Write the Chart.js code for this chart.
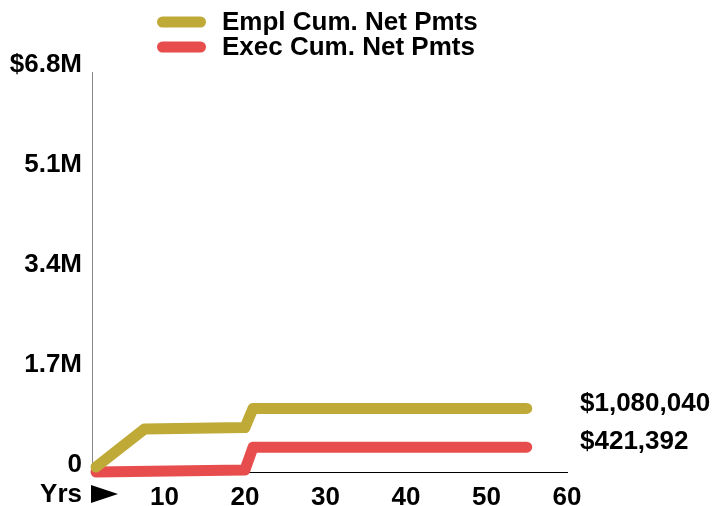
<!DOCTYPE html>
<html>
<head>
<meta charset="utf-8">
<script src="https://cdn.jsdelivr.net/npm/chart.js@4.4.1/dist/chart.umd.min.js"></script>
<style>
  body { margin: 0; background: #fff; }
  canvas { display: block; }
</style>
</head>
<body>
<canvas id="netPmtsChart" width="713" height="506"></canvas>
<script>
// Cumulative net payments by years of service

const seriesNames = ['Empl Cum. Net Pmts', 'Exec Cum. Net Pmts'];
const seriesColors = ['#bfaa37', '#e84d4d'];

const emplYears = [1.5, 7.5, 20, 21, 55];
const emplValues = [85000, 730000, 755000, 1080040, 1080040];

const execYears = [1.5, 20, 21, 55];
const execValues = [0, 35000, 421392, 421392];

const yTickValues = [0, 1700000, 3400000, 5100000, 6800000];
const yTickLabels = ['0', '1.7M', '3.4M', '5.1M', '$6.8M'];
const xTickValues = [10, 20, 30, 40, 50, 60];
const xTickLabels = ['10', '20', '30', '40', '50', '60'];

const FONT_FAMILY = '"Liberation Sans", Arial, Helvetica, sans-serif';
Chart.defaults.font.family = FONT_FAMILY;
Chart.defaults.font.size = 26;
Chart.defaults.font.weight = 'bold';
Chart.defaults.color = '#000';

function toPoints(xs, ys) {
    return xs.map((x, i) => ({ x: x, y: ys[i] }));
}

function lookupLabel(values, labels, value) {
    const i = values.indexOf(value);
    return i >= 0 ? labels[i] : '';
}

// Two stacked legend rows above the plot
const stackedLegend = {
    id: 'stackedLegend',
    afterDraw(chart) {
        const ctx = chart.ctx;
        ctx.save();
        ctx.font = 'bold 26px ' + FONT_FAMILY;
        ctx.textBaseline = 'middle';
        ctx.textAlign = 'left';
        seriesNames.forEach((name, i) => {
            const y = 22 + i * 25;
            ctx.strokeStyle = seriesColors[i];
            ctx.lineWidth = 11;
            ctx.lineCap = 'round';
            ctx.beginPath();
            ctx.moveTo(162.5, y);
            ctx.lineTo(200.5, y);
            ctx.stroke();
            ctx.fillStyle = '#000';
            ctx.fillText(name, 222, y + 1);
        });
        ctx.restore();
    }
};

// Final value printed to the right of each line
const endValueLabels = {
    id: 'endValueLabels',
    afterDatasetsDraw(chart) {
        const ctx = chart.ctx;
        const xScale = chart.scales.x;
        const yScale = chart.scales.y;
        ctx.save();
        ctx.font = 'bold 26px ' + FONT_FAMILY;
        ctx.textBaseline = 'middle';
        ctx.textAlign = 'left';
        ctx.fillStyle = '#000';
        chart.data.datasets.forEach(ds => {
            const last = ds.data[ds.data.length - 1].y;
            const y = yScale.getPixelForValue(last) - 5;
            ctx.fillText('$' + last.toLocaleString('en-US'), xScale.right + 13, y);
        });
        ctx.restore();
    }
};

// "Yrs" marker with an arrow at the start of the x axis
const yearsMarker = {
    id: 'yearsMarker',
    afterDraw(chart) {
        const ctx = chart.ctx;
        const left = chart.chartArea.left;
        const mid = chart.chartArea.bottom + 22;
        ctx.save();
        ctx.font = 'bold 26px ' + FONT_FAMILY;
        ctx.textBaseline = 'middle';
        ctx.textAlign = 'right';
        ctx.fillStyle = '#000';
        ctx.fillText('Yrs', left - 10, mid + 1);
        ctx.beginPath();
        ctx.moveTo(left - 1, mid - 9);
        ctx.lineTo(left + 26, mid);
        ctx.lineTo(left - 1, mid + 9);
        ctx.closePath();
        ctx.fill();
        ctx.restore();
    }
};

const lineStyle = {
    borderWidth: 11,
    borderCapStyle: 'round',
    borderJoinStyle: 'round',
    pointRadius: 0,
    tension: 0,
    fill: false,
    clip: false
};

new Chart(document.getElementById('netPmtsChart'), {
    type: 'line',
    data: {
        datasets: [
            Object.assign({
                label: seriesNames[0],
                data: toPoints(emplYears, emplValues),
                borderColor: seriesColors[0],
                backgroundColor: seriesColors[0]
            }, lineStyle),
            Object.assign({
                label: seriesNames[1],
                data: toPoints(execYears, execValues),
                borderColor: seriesColors[1],
                backgroundColor: seriesColors[1]
            }, lineStyle)
        ]
    },
    options: {
        responsive: false,
        animation: false,
        layout: {
            padding: { left: 0, top: 72, right: 146, bottom: 0 }
        },
        plugins: {
            legend: { display: false },
            tooltip: { enabled: false }
        },
        scales: {
            x: {
                type: 'linear',
                min: 1,
                max: 60,
                grid: { display: false, drawTicks: false },
                border: { display: true, color: '#000', width: 1 },
                afterBuildTicks: scale => {
                    scale.ticks = xTickValues.map(v => ({ value: v }));
                },
                afterFit: scale => { scale.height = 34; },
                ticks: {
                    padding: 10,
                    maxRotation: 0,
                    autoSkip: false,
                    callback: value => lookupLabel(xTickValues, xTickLabels, value)
                }
            },
            y: {
                type: 'linear',
                min: 0,
                max: 6800000,
                grid: { display: false, drawTicks: false },
                border: { display: true, color: '#888', width: 1 },
                afterBuildTicks: scale => {
                    scale.ticks = yTickValues.map(v => ({ value: v }));
                },
                afterFit: scale => { scale.width = 92; },
                ticks: {
                    padding: 10,
                    labelOffset: -7,
                    autoSkip: false,
                    callback: value => lookupLabel(yTickValues, yTickLabels, value)
                }
            }
        }
    },
    plugins: [stackedLegend, endValueLabels, yearsMarker]
});
</script>
</body>
</html>
